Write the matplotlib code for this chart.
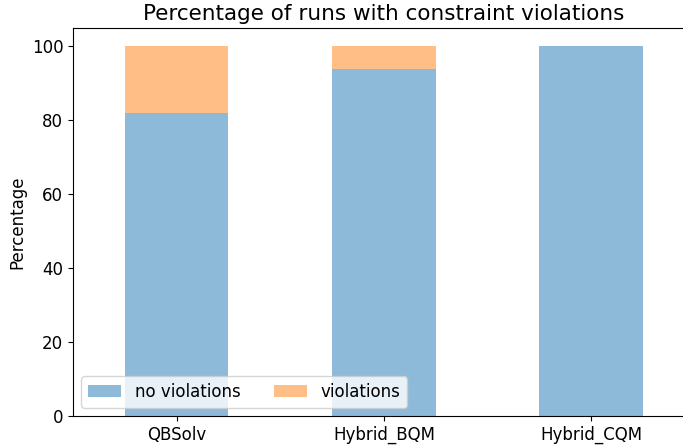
import matplotlib
matplotlib.use("Agg")
import matplotlib.pyplot as plt
import numpy as np

solvers = ["QBSolv", "Hybrid_BQM", "Hybrid_CQM"]
no_violations = [82, 94, 100]
violations = [18, 6, 0]

plt.rcParams["font.size"] = 12

fig = plt.figure(figsize=(6.83, 4.48), dpi=100)
# the right edge of the axes lies past the figure border, as in the original crop
ax = fig.add_axes([73 / 683, 32 / 448, 622 / 683, 388 / 448])

x = np.arange(len(solvers))
ax.bar(x, no_violations, width=0.5, color="tab:blue", alpha=0.5, label="no violations")
ax.bar(x, violations, width=0.5, bottom=no_violations, color="tab:orange", alpha=0.5,
       label="violations")

ax.set_xlim(-0.5, 2.5)
ax.set_ylim(0, 105)
ax.set_xticks(x)
ax.set_xticklabels(solvers)
ax.set_ylabel("Percentage")
ax.set_title("Percentage of runs with constraint violations", fontsize=15.5)
ax.legend(loc="lower left", ncol=2)

fig.savefig("out.png", dpi=100)
